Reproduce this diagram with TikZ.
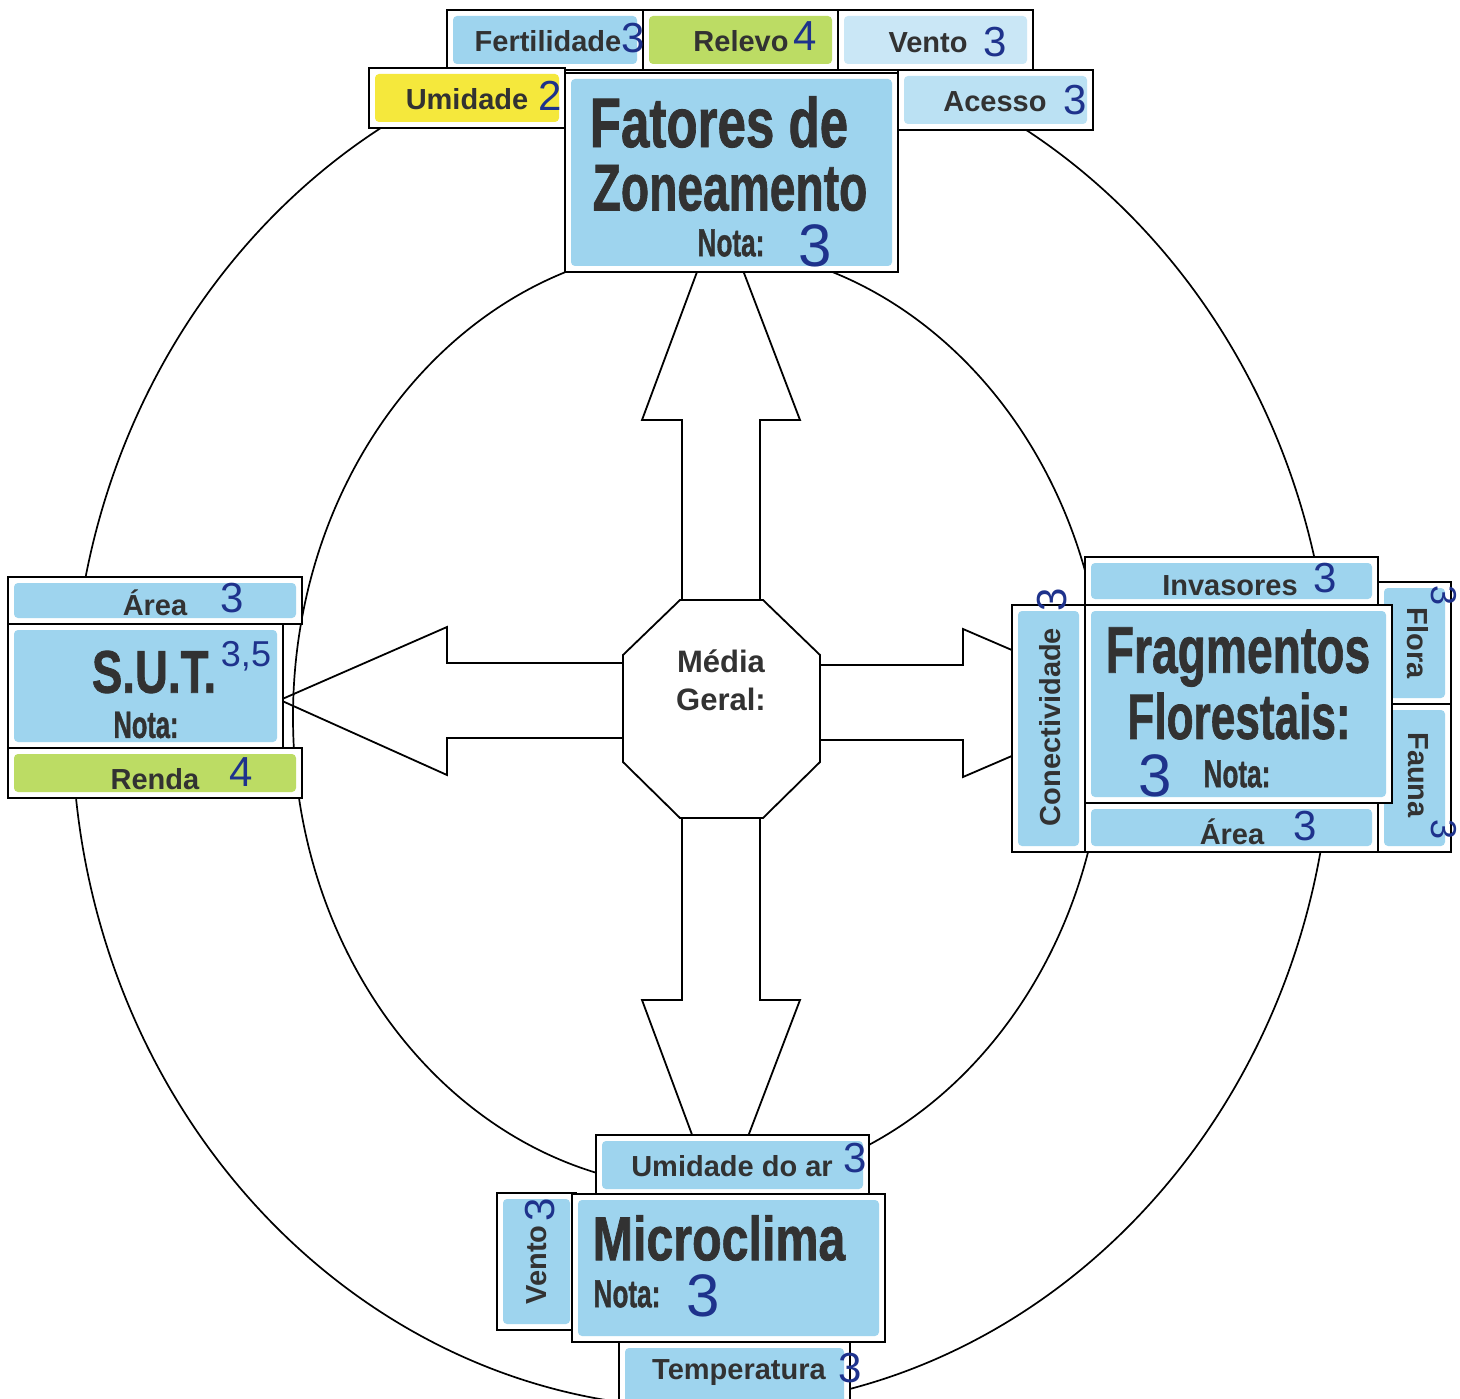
\documentclass[tikz,border=0pt]{standalone}
\usepackage{fontspec}
\usepackage{graphicx}
\setmainfont{Liberation Sans}
\newfontfamily\heavyfont[BoldFeatures={FakeBold=1.3}]{Liberation Sans}
\newfontfamily\penfont{Liberation Sans}

\definecolor{ink}{RGB}{50,50,50}
\definecolor{pen}{RGB}{30,50,140}
\definecolor{pblue}{RGB}{158,212,238}
\definecolor{pgreen}{RGB}{188,220,100}
\definecolor{pyellow}{RGB}{245,232,60}

\tikzset{
  box/.style={draw=black, line width=1.8pt, fill=white, inner sep=0pt, outer sep=0pt},
  tint/.style={path picture={\fill[#1, rounded corners=4pt] ([shift={(6pt,-6pt)}]path picture bounding box.north west)
      rectangle ([shift={(-6pt,6pt)}]path picture bounding box.south east);}},
  lbl/.style={text=ink, font=\fontsize{29}{32}\selectfont\bfseries, inner sep=0pt},
  num/.style={text=pen, font=\fontsize{42}{46}\selectfont\penfont, inner sep=0pt},
  bignum/.style={text=pen, font=\fontsize{60}{64}\selectfont\penfont, inner sep=0pt},
  ttl/.style={text=ink, inner sep=0pt},
  ring/.style={line width=1.7pt},
  blockarrow/.style={line width=1.8pt, line join=miter},
}
\newcommand\heavy[3]{\scalebox{#1}[1]{\fontsize{#2}{#2}\selectfont\heavyfont\bfseries #3}}

\begin{document}
\begin{tikzpicture}[x=1pt,y=-1pt]
\useasboundingbox (0,0) rectangle (1460,1399);
\fill[white] (0,0) rectangle (1460,1399);

% the two rings
\draw[ring] (702,720) ellipse [x radius=630, y radius=688];
\draw[ring] (699,717) ellipse [x radius=406, y radius=471];

% block arrows leaving the centre
\draw[blockarrow] (682,600) -- (682,420) -- (642,420) -- (720,210) -- (800,420) -- (760,420) -- (760,600);
\draw[blockarrow] (682,818) -- (682,1000) -- (642,1000) -- (720,1210) -- (800,1000) -- (760,1000) -- (760,818);
\draw[blockarrow] (623,663) -- (447,663) -- (447,627) -- (280,700) -- (447,775) -- (447,738) -- (623,738);
\draw[blockarrow] (820,665) -- (963,665) -- (963,629) -- (1135,703) -- (963,777) -- (963,740) -- (820,740);

% centre octagon
\draw[line width=1.8pt, fill=white] (680,600) -- (763,600) -- (820,655) -- (820,762) -- (763,818)
  -- (680,818) -- (623,762) -- (623,655) -- cycle;
\node[align=center, text=ink, font=\fontsize{31}{38}\selectfont\bfseries, inner sep=0pt] (media) at (721,680) {Média\\Geral:};

% ---- Fatores de Zoneamento ----
\node[box, tint=pblue, minimum width=196, minimum height=60] (fert) at (545,40) {};
\node[box, tint=pgreen, minimum width=195, minimum height=60] (relevo) at (740.5,40) {};
\node[box, tint=pblue!55, minimum width=195, minimum height=60] (ventoT) at (935.5,40) {};
\node[box, tint=pyellow, minimum width=196, minimum height=60] (umid) at (467,98) {};
\node[box, tint=pblue!70, minimum width=195, minimum height=60] (acesso) at (995.5,100) {};
\node[box, tint=pblue, minimum width=333, minimum height=199] (fatores) at (731.5,172.5) {};

\node[lbl] (tFert) at (548,41) {Fertilidade};
\node[num] (nFert) at (633,38) {3};
\node[lbl] (tRel) at (741,41) {Relevo};
\node[num] (nRel) at (805,36) {4};
\node[lbl] (tVenT) at (928,43) {Vento};
\node[num] (nVenT) at (995,42) {3};
\node[lbl] (tUmi) at (467,99) {Umidade};
\node[num] (nUmi) at (550,96) {2};
\node[lbl] (tAce) at (995,102) {Acesso};
\node[num] (nAce) at (1075,100) {3};
\node[ttl] (fz1) at (719,122) {\heavy{0.73}{70}{Fatores de}};
\node[ttl] (fz2) at (730,188) {\heavy{0.70}{66}{Zoneamento}};
\node[ttl] (fzN) at (731,243) {\heavy{0.67}{39}{Nota:}};
\node[bignum] (fzV) at (815,246) {3};

% ---- S.U.T. ----
\node[box, tint=pblue, minimum width=294, minimum height=47] (areaS) at (155,600.5) {};
\node[box, tint=pblue, minimum width=275, minimum height=124] (sut) at (145.5,686) {};
\node[box, tint=pgreen, minimum width=294, minimum height=50] (renda) at (155,773) {};

\node[lbl] (tAreaS) at (155,603) {Área};
\node[num] (nAreaS) at (232,598) {3};
\node[ttl] (sutT) at (154,672) {\heavy{0.76}{60}{S.U.T.}};
\node[text=pen, font=\fontsize{36}{40}\selectfont\penfont, inner sep=0pt] (sutV) at (246,656) {3,5};
\node[ttl] (sutN) at (146,725) {\heavy{0.67}{38}{Nota:}};
\node[lbl] (tRenda) at (155,779) {Renda};
\node[num] (nRenda) at (241,772) {4};

% ---- Fragmentos Florestais ----
\node[box, tint=pblue, minimum width=73, minimum height=122] (flora) at (1414.5,643) {};
\node[box, tint=pblue, minimum width=73, minimum height=148] (fauna) at (1414.5,778) {};
\node[box, tint=pblue, minimum width=293, minimum height=48] (invas) at (1231.5,581) {};
\node[box, tint=pblue, minimum width=293, minimum height=49] (areaF) at (1231.5,827.5) {};
\node[box, tint=pblue, minimum width=73, minimum height=247] (conect) at (1048.5,728.5) {};
\node[box, tint=pblue, minimum width=307, minimum height=198] (frag) at (1238.5,704) {};

\node[lbl] (tInv) at (1230,586) {Invasores};
\node[num] (nInv) at (1325,578) {3};
\node[lbl] (tAreaF) at (1232,832) {Área};
\node[num] (nAreaF) at (1305,826) {3};
\node[lbl, rotate=90] (tCon) at (1050,727) {Conectividade};
\node[num, rotate=90] (nCon) at (1052,600) {3};
\node[lbl, rotate=-90] (tFlo) at (1418,643) {Flora};
\node[text=pen, font=\fontsize{36}{40}\selectfont\penfont, inner sep=0pt, rotate=-90] (nFlo) at (1444,596) {3};
\node[lbl, rotate=-90] (tFau) at (1418,775) {Fauna};
\node[text=pen, font=\fontsize{36}{40}\selectfont\penfont, inner sep=0pt, rotate=-90] (nFau) at (1444,830) {3};
\node[ttl] (ff1) at (1238,657) {\heavy{0.70}{66}{Fragmentos}};
\node[ttl] (ff2) at (1239,716) {\heavy{0.69}{64}{Florestais:}};
\node[ttl] (ffN) at (1237,774) {\heavy{0.67}{39}{Nota:}};
\node[bignum] (ffV) at (1155,776) {3};

% ---- Microclima ----
\node[box, tint=pblue, minimum width=273, minimum height=60] (umidar) at (732.5,1165) {};
\node[box, tint=pblue, minimum width=79, minimum height=137] (ventoM) at (536.5,1261.5) {};
\node[box, tint=pblue, minimum width=231, minimum height=68] (temp) at (734.5,1376) {};
\node[box, tint=pblue, minimum width=313, minimum height=148] (micro) at (728.5,1268) {};

\node[lbl] (tUar) at (732,1166) {Umidade do ar};
\node[num] (nUar) at (855,1158) {3};
\node[lbl, rotate=90] (tVenM) at (537,1265) {Vento};
\node[num, rotate=90] (nVenM) at (540,1210) {3};
\node[lbl] (tTemp) at (739,1373) {Temperatura};
\node[num] (nTemp) at (850,1368) {3};
\node[ttl] (mcT) at (719,1238) {\heavy{0.78}{62}{Microclima}};
\node[ttl] (mcN) at (627,1294) {\heavy{0.67}{39}{Nota:}};
\node[bignum] (mcV) at (703,1296) {3};
\end{tikzpicture}
\end{document}
